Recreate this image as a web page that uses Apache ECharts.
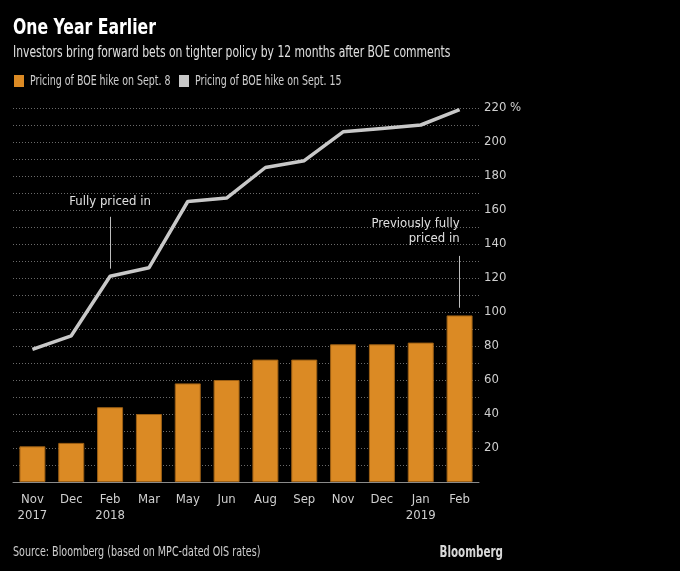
<!DOCTYPE html>
<html>
<head>
<meta charset="utf-8">
<script src="https://cdn.jsdelivr.net/npm/echarts@6/dist/echarts.min.js"></script>
<style>
  html, body { margin: 0; padding: 0; background: #000; }
  #chart { width: 680px; height: 571px; }
</style>
</head>
<body>
<div id="chart"></div>
<script>
var months = ['Nov\n2017', 'Dec', 'Feb\n2018', 'Mar', 'May', 'Jun', 'Aug', 'Sep', 'Nov', 'Dec', 'Jan\n2019', 'Feb'];
var sept8 = [21, 23, 44, 40, 58, 60, 72, 72, 81, 81, 82, 98];
var sept15 = [78, 86, 121, 126, 165, 167, 185, 189, 206, 208, 210, 219];
var seriesNames = ['Pricing of BOE hike on Sept. 8', 'Pricing of BOE hike on Sept. 15'];

var font = 'DejaVu Sans Condensed';
var orange = '#db8a24';
var grey = '#c8c8c8';

// narrow text helper (the original uses a condensed face)
function narrowText(x, y, text, size, sx, fill, weight, align) {
  return {
    type: 'text', x: x, y: y, scaleX: sx, silent: true,
    style: {
      text: text, fontSize: size, fontFamily: font, fill: fill,
      fontWeight: weight || 'normal', align: align || 'left', verticalAlign: 'middle'
    }
  };
}

var myChart = echarts.init(document.getElementById('chart'));
var option = {
  backgroundColor: '#000',
  textStyle: { fontFamily: font },
  grid: { left: 13, right: 201, top: 108, bottom: 89 },
  xAxis: {
    type: 'category',
    data: months,
    axisLine: { lineStyle: { color: '#8a8a8a' } },
    axisTick: { alignWithLabel: true, length: 4, lineStyle: { color: '#8a8a8a' } },
    axisLabel: { color: '#cfcfcf', fontSize: 13, margin: 10, lineHeight: 16, interval: 0 }
  },
  yAxis: {
    type: 'value',
    position: 'right',
    min: 0,
    max: 220,
    interval: 10,
    axisLine: { show: false },
    axisTick: { show: false },
    axisLabel: {
      color: '#cfcfcf', fontSize: 13, margin: 5,
      formatter: function (v) {
        if (v === 0 || v % 20 !== 0) return '';
        return v === 220 ? '220 %' : String(v);
      }
    },
    splitLine: { lineStyle: { color: '#6a6a6a', type: [1, 2], width: 1 } }
  },
  series: [
    {
      name: seriesNames[0],
      type: 'bar',
      data: sept8,
      barWidth: 26,
      itemStyle: { color: orange, borderColor: '#9c5f14', borderWidth: 1 },
      markLine: {
        silent: true,
        symbol: 'none',
        lineStyle: { color: '#bdbdbd', type: 'solid', width: 1 },
        label: {
          show: true, position: 'end', color: '#e0e0e0', fontSize: 13,
          lineHeight: 15, fontFamily: font
        },
        data: [
          [{ coord: [2, 125.5] }, { coord: [2, 156], label: { formatter: 'Fully priced in', distance: 8 } }],
          [{ coord: [11, 102.5] }, { coord: [11, 133], label: { formatter: 'Previously fully\npriced in', distance: 10, align: 'right' } }]
        ]
      }
    },
    {
      name: seriesNames[1],
      type: 'line',
      data: sept15,
      symbol: 'none',
      lineStyle: { color: grey, width: 3.5 },
      itemStyle: { color: grey }
    }
  ],
  graphic: [
    narrowText(13, 29, 'One Year Earlier', 21, 0.83, '#fff', 'bold'),
    narrowText(13, 53, 'Investors bring forward bets on tighter policy by 12 months after BOE comments', 15, 0.8, '#e0e0e0'),
    { type: 'rect', x: 14, y: 75, shape: { width: 10, height: 12 }, style: { fill: orange } },
    narrowText(30, 81, seriesNames[0], 14, 0.75, '#cfcfcf'),
    { type: 'rect', x: 179, y: 75, shape: { width: 10, height: 12 }, style: { fill: grey } },
    narrowText(195, 81, seriesNames[1], 14, 0.75, '#cfcfcf'),
    narrowText(13, 552, 'Source: Bloomberg (based on MPC-dated OIS rates)', 14, 0.76, '#cfcfcf'),
    narrowText(503, 553, 'Bloomberg', 16, 0.72, '#d8d8d8', 'bold', 'right')
  ]
};
myChart.setOption(option, true);
</script>
</body>
</html>
